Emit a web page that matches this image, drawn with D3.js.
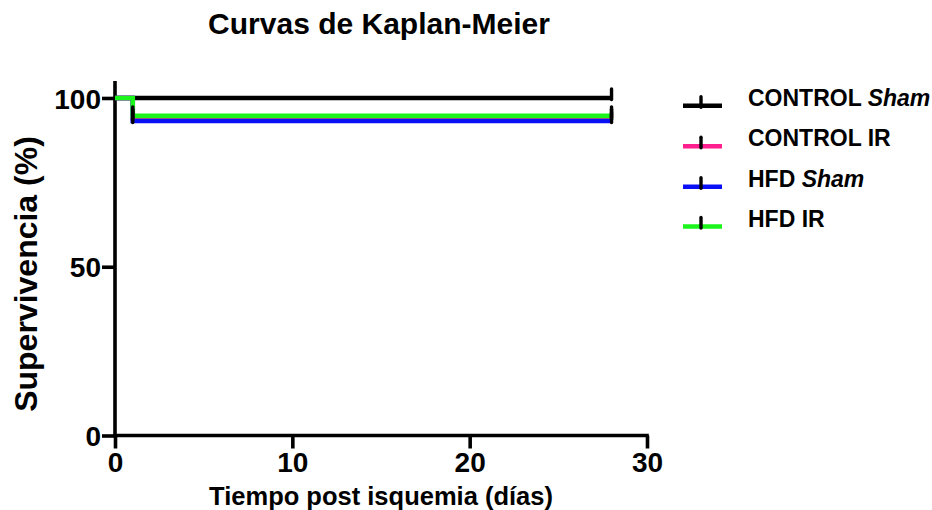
<!DOCTYPE html>
<html>
<head>
<meta charset="utf-8">
<script src="https://cdn.jsdelivr.net/npm/d3@7"></script>
<style>
  html, body { margin: 0; padding: 0; background: #fff; }
  svg text { font-family: Arial, "Liberation Sans", sans-serif; font-weight: bold; fill: #000; }
</style>
</head>
<body>
<svg id="chart" width="932" height="510"></svg>
<script>
// Kaplan-Meier survival curves, four groups
const seriesNames = ["CONTROL Sham", "CONTROL IR", "HFD Sham", "HFD IR"];
const seriesColors = ["#000000", "#ff1f8f", "#0a10f5", "#1cf51c"];
// event times (days) and survival (%) for each step
const timesControlSham = [0, 28];
const survControlSham = [100, 100];
const timesControlIR = [0, 1, 28];
const survControlIR = [100, 94.0, 94.0];
const timesHfdSham = [0, 1, 28];
const survHfdSham = [100, 93.2, 93.2];
const timesHfdIR = [0, 1, 28];
const survHfdIR = [100, 94.7, 94.7];
// censored observations (days)
const censorControlSham = [28];
const censorControlIR = [1, 28];
const censorHfdSham = [1, 28];
const censorHfdIR = [1, 28];
const xTicks = [0, 10, 20, 30];
const yTicks = [0, 50, 100];

const series = [
  { name: seriesNames[0], color: seriesColors[0], t: timesControlSham, s: survControlSham, c: censorControlSham },
  { name: seriesNames[1], color: seriesColors[1], t: timesControlIR, s: survControlIR, c: censorControlIR },
  { name: seriesNames[2], color: seriesColors[2], t: timesHfdSham, s: survHfdSham, c: censorHfdSham },
  { name: seriesNames[3], color: seriesColors[3], t: timesHfdIR, s: survHfdIR, c: censorHfdIR }
];

const svg = d3.select("#chart");
const x = d3.scaleLinear().domain([0, 30]).range([115, 647]);
const y = d3.scaleLinear().domain([0, 105]).range([435.5, 81.1]);

// title
svg.append("text").attr("x", 379).attr("y", 34).attr("text-anchor", "middle")
  .style("font-size", "30px").text("Curvas de Kaplan-Meier");

// axes
const axisW = 3.6;
const xAxis = d3.axisBottom(x).tickValues(xTicks).tickFormat(d3.format("d")).tickSizeOuter(0).tickSize(13);
const gx = svg.append("g").attr("transform", `translate(0,${y(0)})`).call(xAxis);
const yAxis = d3.axisLeft(y).tickValues(yTicks).tickFormat(d3.format("d")).tickSizeOuter(0).tickSize(13).tickPadding(1);
const gy = svg.append("g").attr("transform", `translate(${x(0)},0)`).call(yAxis);
[gx, gy].forEach(g => {
  g.select(".domain").attr("stroke", "#000").attr("stroke-width", axisW);
  g.selectAll(".tick line").attr("stroke", "#000").attr("stroke-width", axisW);
  g.selectAll(".tick text").style("font-size", "28px").style("font-family", "Arial, 'Liberation Sans', sans-serif").style("font-weight", "bold");
});
gx.select(".domain").attr("d", `M${x(0) - 1.8},0H${x(30) + 1.8}`);
gy.select(".domain").attr("d", `M0,${y(105)}V${y(0)}`);
gx.selectAll(".tick text").attr("y", 36.5).attr("dy", 0);
gy.selectAll(".tick text").attr("dy", "0.36em");

// axis titles
svg.append("text").attr("x", 381).attr("y", 505).attr("text-anchor", "middle")
  .style("font-size", "25.5px").text("Tiempo post isquemia (días)");
svg.append("text").attr("transform", "translate(37,274) rotate(-90)").attr("text-anchor", "middle")
  .style("font-size", "32px").text("Supervivencia (%)");

// survival step lines
const line = d3.line().curve(d3.curveStepAfter).x(d => x(d[0])).y(d => y(d[1]));
series.forEach(sr => {
  svg.append("path").datum(sr.t.map((t, i) => [t, sr.s[i]]))
    .attr("fill", "none").attr("stroke", sr.color).attr("stroke-width", 4.6)
    .attr("stroke-linejoin", "miter").attr("d", line);
});

// survival value at a given time (step function)
function survAt(sr, t) {
  let v = sr.s[0];
  sr.t.forEach((tt, i) => { if (tt <= t) v = sr.s[i]; });
  return v;
}
// censor marks
series.forEach(sr => {
  sr.c.forEach(t => {
    const cy = y(survAt(sr, t));
    svg.append("line").attr("x1", x(t)).attr("x2", x(t))
      .attr("y1", cy - 9).attr("y2", cy + 1.5)
      .attr("stroke", "#000").attr("stroke-width", 3.4).attr("stroke-linecap", "round");
  });
});

// legend
const legY = [105.7, 146.3, 186.7, 226.5];
series.forEach((sr, i) => {
  const g = svg.append("g").attr("transform", `translate(0,${legY[i]})`);
  g.append("line").attr("x1", 683).attr("x2", 722).attr("y1", 0).attr("y2", 0)
    .attr("stroke", sr.color).attr("stroke-width", 4.6);
  g.append("line").attr("x1", 701).attr("x2", 701).attr("y1", -9).attr("y2", 1.5)
    .attr("stroke", "#000").attr("stroke-width", 3.4).attr("stroke-linecap", "round");
  const parts = sr.name.split(" ");
  const txt = g.append("text").attr("x", 748).attr("y", 0).style("font-size", "23px");
  txt.append("tspan").text(parts[0] + " ");
  txt.append("tspan").style("font-style", parts[1] === "Sham" ? "italic" : "normal").text(parts[1]);
});
</script>
</body>
</html>
